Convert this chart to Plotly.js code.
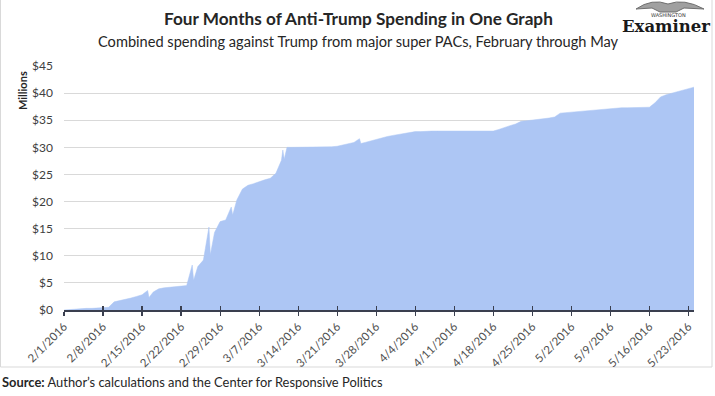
<!DOCTYPE html>
<html>
<head>
<meta charset="utf-8">
<script src="https://cdn.plot.ly/plotly-3.0.1.min.js"></script>
<style>html,body{margin:0;padding:0;background:#fff;}#chart{width:715px;height:396px;}</style>
</head>
<body>
<div id="chart"></div>
<script>
// Cumulative spending (millions of dollars); extra timestamps mark intra-day spikes
const dates = [
 '2016-02-01','2016-02-02','2016-02-03','2016-02-04','2016-02-05','2016-02-06','2016-02-07','2016-02-08','2016-02-09','2016-02-10',
 '2016-02-11','2016-02-12','2016-02-13','2016-02-14','2016-02-15','2016-02-16','2016-02-16 06:00','2016-02-17','2016-02-18','2016-02-19',
 '2016-02-20','2016-02-21','2016-02-22','2016-02-23','2016-02-24','2016-02-24 06:00','2016-02-25','2016-02-26','2016-02-27','2016-02-27 06:00',
 '2016-02-28','2016-02-29','2016-03-01','2016-03-02','2016-03-02 06:00','2016-03-03','2016-03-04','2016-03-05','2016-03-06','2016-03-07',
 '2016-03-08','2016-03-09','2016-03-10','2016-03-11','2016-03-11 06:00','2016-03-11 12:00','2016-03-12','2016-03-13','2016-03-14','2016-03-15',
 '2016-03-16','2016-03-17','2016-03-18','2016-03-19','2016-03-20','2016-03-21','2016-03-22','2016-03-23','2016-03-24','2016-03-25',
 '2016-03-25 06:00','2016-03-26','2016-03-27','2016-03-28','2016-03-29','2016-03-30','2016-03-31','2016-04-01','2016-04-02','2016-04-03',
 '2016-04-04','2016-04-05','2016-04-06','2016-04-07','2016-04-08','2016-04-09','2016-04-10','2016-04-11','2016-04-12','2016-04-13',
 '2016-04-14','2016-04-15','2016-04-16','2016-04-17','2016-04-18','2016-04-19','2016-04-20','2016-04-21','2016-04-22','2016-04-23',
 '2016-04-24','2016-04-25','2016-04-26','2016-04-27','2016-04-28','2016-04-29','2016-04-30','2016-05-01','2016-05-02','2016-05-03',
 '2016-05-04','2016-05-05','2016-05-06','2016-05-07','2016-05-08','2016-05-09','2016-05-10','2016-05-11','2016-05-12','2016-05-13',
 '2016-05-14','2016-05-15','2016-05-16','2016-05-17','2016-05-18','2016-05-19','2016-05-20','2016-05-21','2016-05-22','2016-05-23',
 '2016-05-24'
];
const spending = [
 0.0,0.1,0.2,0.2,0.3,0.3,0.4,0.5,0.5,1.5,
 1.7,1.9,2.2,2.5,2.8,3.6,2.3,3.3,3.9,4.1,
 4.2,4.3,4.4,4.5,8.3,5.5,8.0,9.2,15.3,10.2,
 14.3,16.3,16.6,19.0,17.5,20.3,22.3,23.0,23.3,23.7,
 24.0,24.3,25.2,27.6,29.5,27.8,30.0,30.0,30.0,30.0,
 30.0,30.1,30.1,30.1,30.1,30.2,30.4,30.6,30.9,31.6,
 30.7,30.9,31.2,31.4,31.7,32.0,32.2,32.4,32.6,32.8,
 32.9,32.9,33.0,33.0,33.0,33.0,33.0,33.0,33.0,33.0,
 33.0,33.0,33.0,33.0,33.0,33.3,33.7,34.0,34.3,34.8,
 34.9,35.0,35.2,35.3,35.4,35.6,36.3,36.4,36.5,36.6,
 36.7,36.8,36.9,37.0,37.1,37.2,37.3,37.3,37.3,37.3,
 37.3,37.4,37.4,38.2,39.3,39.7,40.0,40.3,40.5,40.8,
 41.1
];
const tickDates = ['2016-02-01','2016-02-08','2016-02-15','2016-02-22','2016-02-29','2016-03-07','2016-03-14','2016-03-21','2016-03-28','2016-04-04','2016-04-11','2016-04-18','2016-04-25','2016-05-02','2016-05-09','2016-05-16','2016-05-23'];
const tickLabels = ['2/1/2016','2/8/2016','2/15/2016','2/22/2016','2/29/2016','3/7/2016','3/14/2016','3/21/2016','3/28/2016','4/4/2016','4/11/2016','4/18/2016','4/25/2016','5/2/2016','5/9/2016','5/16/2016','5/23/2016'];
const yTicks = [0,5,10,15,20,25,30,35,40,45];
const yLabels = ['$0','$5','$10','$15','$20','$25','$30','$35','$40','$45'];

const L = 64, R = 694, T = 66, B = 310, W = 715, H = 396;
const px = x => (x - L) / (R - L);
const py = y => (B - y) / (B - T);
const FONT = 'Lato, "Open Sans", sans-serif';

const traces = [
 {x: dates, y: spending, type: 'scatter', mode: 'lines', fill: 'tozeroy',
  fillcolor: '#adc6f4', line: {color: '#adc6f4', width: 0.5}, hoverinfo: 'x+y', showlegend: false},
 {x: [dates[0]], y: [0], xaxis: 'x2', type: 'scatter', mode: 'markers', marker: {opacity: 0}, showlegend: false, hoverinfo: 'skip'}
];

const xRange = ['2016-02-01', '2016-05-24'];
const layout = {
 width: W, height: H,
 margin: {l: L, r: W - R, t: T, b: H - B, pad: 0},
 paper_bgcolor: '#ffffff', plot_bgcolor: '#ffffff',
 showlegend: false,
 xaxis: {type: 'date', range: xRange, tickvals: tickDates, ticktext: tickLabels, tickangle: -45,
  ticks: 'outside', ticklen: 4, tickwidth: 1.2, tickcolor: '#3a3f4f',
  showline: true, linecolor: '#3a3f4f', linewidth: 1.5, showgrid: false, zeroline: false,
  tickfont: {family: FONT, size: 11.5, color: '#505050'}, fixedrange: true},
 xaxis2: {type: 'date', range: xRange, overlaying: 'x', tickvals: tickDates, showticklabels: false,
  ticks: 'inside', ticklen: 4, tickwidth: 1.2, tickcolor: '#3a3f4f', showgrid: false, showline: false, zeroline: false},
 yaxis: {range: [0, 45], tickvals: yTicks, ticktext: yLabels, showgrid: true, gridcolor: '#d9d9d9', gridwidth: 1,
  zeroline: false, showline: false, ticks: '', ticklabelstandoff: 10,
  tickfont: {family: FONT, size: 12, color: '#404040'}, fixedrange: true},
 shapes: [
  {type: 'rect', xref: 'paper', yref: 'paper', x0: px(0.5), x1: px(712), y0: py(367), y1: py(-3),
   line: {color: '#d9d9d9', width: 1}, fillcolor: 'rgba(0,0,0,0)', layer: 'below'},
  {type: 'path', xref: 'paper', yref: 'paper',
   path: 'M ' + px(636) + ' ' + py(9) + ' Q ' + px(652) + ' ' + py(-2) + ' ' + px(668) + ' ' + py(4) +
         ' Q ' + px(684) + ' ' + py(-2) + ' ' + px(704) + ' ' + py(9) +
         ' L ' + px(684) + ' ' + py(8) + ' L ' + px(676) + ' ' + py(12) + ' L ' + px(660) + ' ' + py(12) +
         ' L ' + px(652) + ' ' + py(8) + ' Z',
   fillcolor: '#a0a0a0', line: {color: '#6f6f6f', width: 1}}
 ],
 annotations: [
  {text: '<b>Four Months of Anti-Trump Spending in One Graph</b>', xref: 'paper', yref: 'paper',
   x: px(358), y: py(19), xanchor: 'center', yanchor: 'middle', showarrow: false,
   font: {family: FONT, size: 17.2, color: '#262626'}},
  {text: 'Combined spending against Trump from major super PACs, February through May', xref: 'paper', yref: 'paper',
   x: px(358), y: py(42), xanchor: 'center', yanchor: 'middle', showarrow: false,
   font: {family: FONT, size: 14.6, color: '#262626'}},
  {text: '<b>Millions</b>', xref: 'paper', yref: 'paper', x: px(23), y: py(91), textangle: -90,
   xanchor: 'center', yanchor: 'middle', showarrow: false, font: {family: FONT, size: 11, color: '#262626'}},
  {text: '<b>Source:</b> Author\u2019s calculations and the Center for Responsive Politics', xref: 'paper', yref: 'paper',
   x: px(0), y: py(382), xanchor: 'left', yanchor: 'middle', showarrow: false,
   font: {family: FONT, size: 12.9, color: '#262626'}},
  {text: 'WASHINGTON', xref: 'paper', yref: 'paper', x: px(668), y: py(15), xanchor: 'center', yanchor: 'middle',
   showarrow: false, font: {family: 'DejaVu Sans', size: 5, color: '#333'}},
  {text: '<b>Examiner</b>', xref: 'paper', yref: 'paper', x: px(666), y: py(26), xanchor: 'center', yanchor: 'middle',
   showarrow: false, font: {family: '"DejaVu Serif", serif', size: 16.5, color: '#1a1a1a'}}
 ]
};

Plotly.newPlot('chart', traces, layout, {displayModeBar: false, staticPlot: true});
</script>
</body>
</html>
